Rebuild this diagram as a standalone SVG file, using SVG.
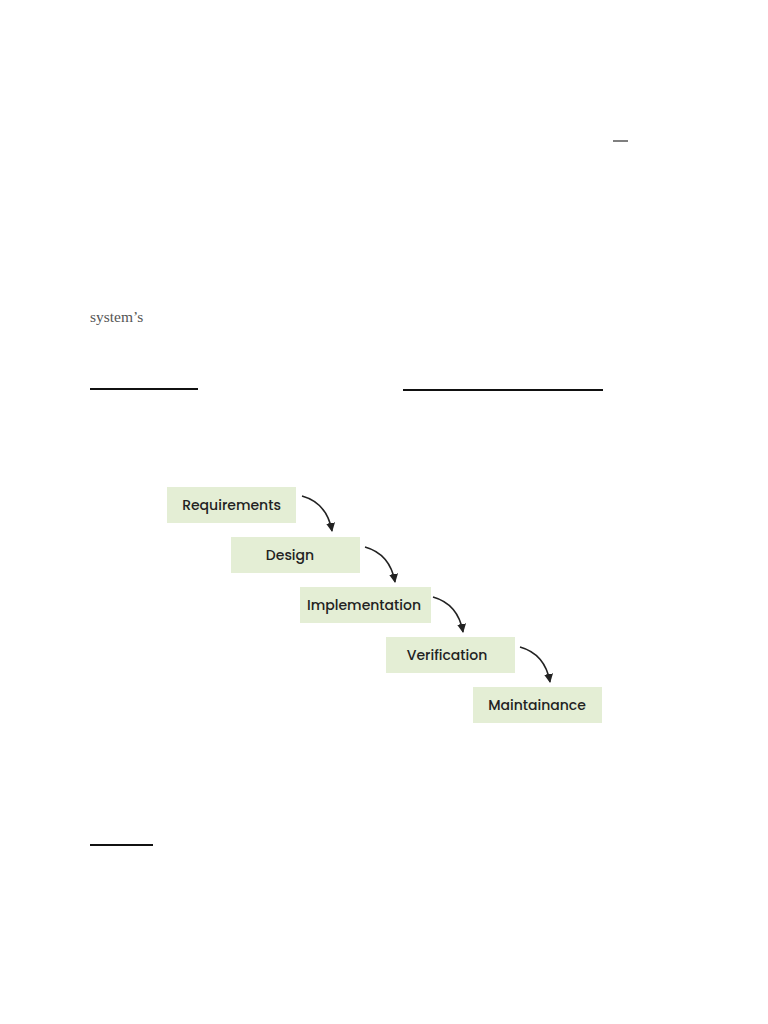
<svg xmlns="http://www.w3.org/2000/svg" width="768" height="1024" viewBox="0 0 768 1024">
<style>
.box{fill:#e4eed5;}
.lbl{font-family:Poppins,"Noto Sans","Open Sans",sans-serif;font-size:14px;font-weight:500;fill:#222;text-anchor:middle;}
.rule{stroke:#111;stroke-width:2;}
.conn{fill:none;stroke:#222;stroke-width:1.6;}
</style>
<defs>
<marker id="ah" viewBox="0 0 10 10" refX="9" refY="5" markerWidth="9" markerHeight="9" orient="auto" markerUnits="userSpaceOnUse">
<path d="M0,0 L10,5 L0,10 Z" fill="#222"/>
</marker>
</defs>
<rect width="768" height="1024" fill="#fff"/>
<line x1="613" y1="141" x2="628" y2="141" stroke="#555" stroke-width="1.5"/>
<text x="90" y="322" font-family="Liberation Serif, serif" font-size="15.5" fill="#555">system’s</text>
<line class="rule" x1="90" y1="389" x2="198" y2="389"/>
<line class="rule" x1="403" y1="390" x2="603" y2="390"/>
<line class="rule" x1="90" y1="845" x2="153" y2="845" stroke-width="1.5"/>
<g id="requirements"><rect class="box" x="167" y="487" width="129" height="36"/><text class="lbl" x="231.5" y="510">Requirements</text></g>
<g id="design"><rect class="box" x="231" y="537" width="129" height="36"/><text class="lbl" x="290" y="560">Design</text></g>
<g id="implementation"><rect class="box" x="300" y="587" width="131" height="36"/><text class="lbl" x="364" y="610">Implementation</text></g>
<g id="verification"><rect class="box" x="386" y="637" width="129" height="36"/><text class="lbl" x="447" y="660">Verification</text></g>
<g id="maintainance"><rect class="box" x="473" y="687" width="129" height="36"/><text class="lbl" x="537" y="710">Maintainance</text></g>
<g id="connectors">
<path class="conn" d="M302,496 Q327,503 332,531" marker-end="url(#ah)"/>
<path class="conn" d="M365,547 Q390,554 395,582" marker-end="url(#ah)"/>
<path class="conn" d="M433,597 Q458,604 463,632" marker-end="url(#ah)"/>
<path class="conn" d="M520,647 Q545,654 550,682" marker-end="url(#ah)"/>
</g>
</svg>
